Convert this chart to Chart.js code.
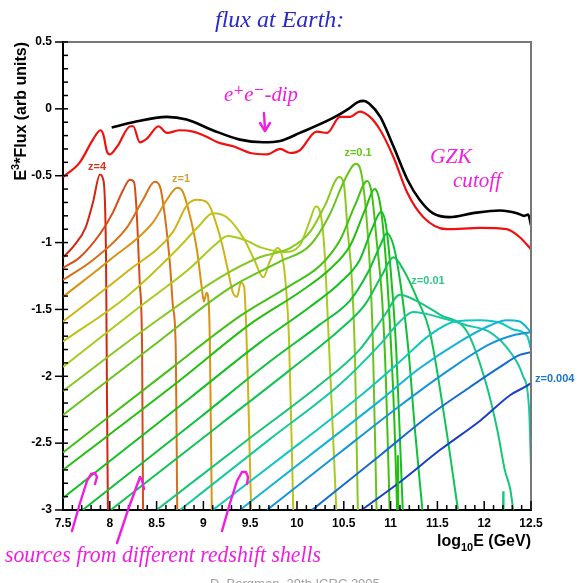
<!DOCTYPE html>
<html>
<head>
<meta charset="utf-8">
<script src="https://cdn.jsdelivr.net/npm/chart.js@4.4.1/dist/chart.umd.min.js"></script>
<style>
  html, body { margin: 0; padding: 0; background: #fff; }
  canvas { display: block; }
</style>
</head>
<body>
<canvas id="flux" width="579" height="583"></canvas>
<script>
// axis ranges: log10(E/GeV) across, log10(E^3 * flux) up
const xRange = [7.5, 12.5];
const yRange = [-3, 0.5];
const tickStep = 0.5;

// smooth flux at Earth (black) and the summed shells (red)
const earthFlux = [[8.02,-0.14],[8.25,-0.10],[8.61,-0.06],[8.82,-0.08],[9.10,-0.16],[9.39,-0.23],[9.64,-0.25],[9.82,-0.24],[10.03,-0.18],[10.38,-0.07],[10.55,0.0],[10.65,0.05],[10.71,0.06],[10.77,0.04],[10.89,-0.06],[11.03,-0.28],[11.18,-0.53],[11.31,-0.68],[11.45,-0.78],[11.63,-0.81],[11.88,-0.78],[12.17,-0.76],[12.35,-0.78],[12.43,-0.80],[12.47,-0.79],[12.5,-0.87]];
const summedFlux = [[7.5,-0.51],[7.68,-0.40],[7.82,-0.23],[7.90,-0.16],[7.93,-0.19],[7.97,-0.32],[8.00,-0.34],[8.08,-0.28],[8.22,-0.13],[8.25,-0.13],[8.32,-0.25],[8.40,-0.22],[8.52,-0.13],[8.61,-0.18],[8.75,-0.16],[8.89,-0.17],[9.04,-0.21],[9.15,-0.25],[9.32,-0.28],[9.50,-0.33],[9.68,-0.34],[9.82,-0.30],[9.93,-0.33],[10.03,-0.31],[10.21,-0.17],[10.32,-0.18],[10.46,-0.06],[10.57,-0.06],[10.67,-0.02],[10.78,-0.06],[10.89,-0.16],[11.03,-0.36],[11.18,-0.63],[11.35,-0.81],[11.60,-0.90],[11.96,-0.89],[12.24,-0.90],[12.38,-0.96],[12.5,-1.05]];

// one spectrum per redshift shell, from z=4 down to z=0.004
const shell01 = [[7.5,-1.11],[7.61,-1.03],[7.74,-0.89],[7.82,-0.70],[7.895,-0.49],[7.93,-0.53],[7.96,-1.13],[7.97,-2.18],[7.98,-3.0]];
const shell02 = [[7.5,-1.19],[7.68,-1.11],[7.90,-0.93],[8.03,-0.78],[8.14,-0.61],[8.215,-0.53],[8.26,-0.55],[8.29,-0.81],[8.32,-1.30],[8.345,-1.80],[8.355,-3.0]];
const shell03 = [[7.5,-1.28],[7.82,-1.13],[8.18,-0.89],[8.355,-0.68],[8.48,-0.545],[8.535,-0.58],[8.59,-0.81],[8.645,-1.18],[8.675,-1.48],[8.705,-1.80],[8.72,-3.0]];
const shell04 = [[7.5,-1.405],[8.0,-1.13],[8.46,-0.85],[8.61,-0.68],[8.72,-0.59],[8.78,-0.62],[8.86,-0.81],[8.93,-1.05],[8.985,-1.35],[9.005,-1.44],[9.035,-1.375],[9.06,-1.50],[9.07,-1.80],[9.09,-3.0]];
const shell05 = [[7.5,-1.59],[8.18,-1.22],[8.675,-0.92],[8.825,-0.72],[8.93,-0.68],[9.04,-0.70],[9.18,-0.96],[9.26,-1.20],[9.315,-1.375],[9.36,-1.405],[9.40,-1.30],[9.435,-1.33],[9.455,-1.58],[9.475,-2.03],[9.51,-3.0]];
const shell06 = [[7.5,-1.74],[8.18,-1.405],[8.72,-1.05],[8.96,-0.87],[9.10,-0.78],[9.25,-0.81],[9.44,-0.98],[9.55,-1.14],[9.64,-1.26],[9.71,-1.14],[9.79,-1.04],[9.83,-1.07],[9.87,-1.24],[9.915,-1.73],[9.96,-3.0]];
const shell07 = [[7.5,-1.93],[8.32,-1.48],[8.86,-1.19],[9.12,-1.02],[9.26,-0.95],[9.44,-0.98],[9.63,-1.04],[9.87,-1.07],[10.03,-1.02],[10.14,-0.83],[10.20,-0.73],[10.25,-0.78],[10.29,-1.02],[10.33,-1.58],[10.42,-3.0]];
const shell08 = [[7.5,-2.11],[8.43,-1.62],[9.18,-1.26],[9.60,-1.11],[9.93,-1.04],[10.14,-0.92],[10.30,-0.72],[10.45,-0.51],[10.50,-0.56],[10.54,-0.90],[10.59,-1.32],[10.62,-1.88],[10.65,-3.0]];
const shell09 = [[7.5,-2.29],[8.54,-1.73],[9.28,-1.34],[9.82,-1.14],[10.14,-1.02],[10.35,-0.79],[10.51,-0.53],[10.63,-0.41],[10.69,-0.49],[10.74,-0.79],[10.78,-1.20],[10.81,-1.73],[10.85,-3.0]];
const shell10 = [[7.5,-2.57],[8.64,-1.95],[9.39,-1.55],[9.93,-1.32],[10.25,-1.17],[10.46,-0.98],[10.62,-0.72],[10.75,-0.54],[10.80,-0.64],[10.85,-0.98],[10.91,-1.43],[10.95,-2.03],[10.99,-3.0]];
const shell11 = [[7.5,-2.70],[8.75,-2.03],[9.50,-1.61],[10.03,-1.37],[10.35,-1.20],[10.57,-1.02],[10.73,-0.75],[10.83,-0.60],[10.89,-0.72],[10.94,-1.05],[10.99,-1.58],[11.04,-2.33],[11.07,-3.0]];
const shell12 = [[7.5,-2.91],[8.86,-2.16],[9.60,-1.75],[10.14,-1.48],[10.46,-1.30],[10.67,-1.13],[10.80,-0.90],[10.90,-0.77],[10.95,-0.87],[11.00,-1.20],[11.06,-1.80],[11.10,-2.47],[11.13,-3.0]];
const shell13 = [[7.71,-3.0],[8.96,-2.31],[9.71,-1.89],[10.25,-1.61],[10.57,-1.43],[10.76,-1.22],[10.89,-1.02],[10.96,-0.93],[11.03,-1.02],[11.10,-1.28],[11.19,-1.80],[11.26,-2.40],[11.34,-3.0]];
const shell14 = [[8.01,-3.0],[9.18,-2.36],[9.93,-1.95],[10.46,-1.65],[10.73,-1.46],[10.91,-1.24],[11.03,-1.11],[11.15,-1.22],[11.29,-1.43],[11.42,-1.67],[11.58,-2.33],[11.72,-3.0]];
const shell15 = [[8.50,-3.0],[9.50,-2.46],[10.25,-2.06],[10.67,-1.80],[10.94,-1.54],[11.10,-1.39],[11.26,-1.43],[11.53,-1.54],[11.82,-1.67],[12.01,-2.03],[12.14,-2.40],[12.22,-2.70],[12.28,-2.85],[12.31,-3.0]];
const shell16 = [[8.75,-3.0],[9.71,-2.47],[10.46,-2.06],[10.89,-1.76],[11.10,-1.59],[11.24,-1.52],[11.53,-1.56],[11.82,-1.62],[12.06,-1.67],[12.28,-1.82],[12.41,-1.99],[12.48,-2.25],[12.5,-2.68]];
const shell17 = [[9.10,-3.0],[10.03,-2.50],[10.67,-2.15],[11.10,-1.89],[11.42,-1.69],[11.69,-1.59],[11.96,-1.58],[12.17,-1.60],[12.31,-1.65],[12.46,-1.70],[12.5,-1.80]];
const shell18 = [[9.39,-3.0],[10.25,-2.53],[10.89,-2.18],[11.31,-1.94],[11.74,-1.74],[12.06,-1.62],[12.24,-1.58],[12.38,-1.59],[12.5,-1.67]];
const shell19 = [[9.68,-3.0],[10.46,-2.57],[11.10,-2.22],[11.63,-1.95],[12.06,-1.76],[12.33,-1.69],[12.5,-1.67]];
const shell20 = [[10.16,-3.0],[10.89,-2.59],[11.42,-2.29],[11.85,-2.08],[12.17,-1.93],[12.38,-1.84],[12.5,-1.82]];
const shell21 = [[10.69,-3.0],[11.10,-2.79],[11.53,-2.55],[11.96,-2.33],[12.28,-2.14],[12.46,-2.07],[12.5,-2.05]];

// short noise spikes at the foot of two cutoffs
const spike11 = [[11.075,-3.05],[11.078,-2.59],[11.082,-3.05]];
const spike15 = [[12.20,-3.05],[12.203,-2.86],[12.207,-3.05]];

const shells = [shell01, shell02, shell03, shell04, shell05, shell06, shell07, shell08, shell09, shell10, shell11,
  shell12, shell13, shell14, shell15, shell16, shell17, shell18, shell19, shell20, shell21];
const shellColors = ['#d42412', '#d64c16', '#d8701a', '#d89214', '#cfb316', '#bcc41c', '#a6cc20', '#88c820', '#68c41c',
  '#44c014', '#22c00c', '#14c020', '#10c038', '#10c454', '#16c678', '#18c8a0', '#12c6c0', '#12b4d6', '#1496d8', '#146cd0', '#1840c6'];

const toPoints = arr => arr.map(p => ({ x: p[0], y: p[1] }));

const datasets = [
  { data: toPoints(earthFlux), borderColor: '#000', borderWidth: 2.6 },
  { data: toPoints(summedFlux), borderColor: '#f01010', borderWidth: 2.2 },
  { data: toPoints(spike11), borderColor: shellColors[10], borderWidth: 2, cubicInterpolationMode: 'default' },
  { data: toPoints(spike15), borderColor: shellColors[14], borderWidth: 2, cubicInterpolationMode: 'default' }
];
// lower-z shells drawn on top
for (let i = shells.length - 1; i >= 0; i--) {
  datasets.push({ data: toPoints(shells[i]), borderColor: shellColors[i], borderWidth: 2 });
}

const hand = size => `italic ${size}px "Liberation Serif", "DejaVu Serif", serif`;
// 8 rather than 8.0, -1 rather than -1.0
const plainNumber = v => String(Math.round(v * 10) / 10);

const frame = {
  id: 'frame',
  afterDraw(chart) {
    const { ctx, chartArea: a, scales: { x, y } } = chart;
    ctx.save();
    ctx.strokeStyle = '#777';
    ctx.lineWidth = 2;
    ctx.beginPath();
    ctx.moveTo(a.left, a.top);
    ctx.lineTo(a.right, a.top);
    ctx.lineTo(a.right, a.bottom);
    ctx.stroke();

    ctx.strokeStyle = '#000';
    ctx.lineWidth = 1.5;
    for (let k = 0; k <= 50; k++) {
      const px = x.getPixelForValue(xRange[0] + k * 0.1);
      const len = k % 5 === 0 ? 9 : 5;
      ctx.beginPath();
      ctx.moveTo(px, a.bottom);
      ctx.lineTo(px, a.bottom - len);
      ctx.stroke();
    }
    for (let k = 0; k <= 35; k++) {
      const py = y.getPixelForValue(yRange[0] + k * 0.1);
      ctx.beginPath();
      ctx.moveTo(a.left, py);
      ctx.lineTo(a.left + 5, py);
      ctx.stroke();
      if (k % 5 === 0) {
        ctx.beginPath();
        ctx.moveTo(a.left - 8, py);
        ctx.lineTo(a.left, py);
        ctx.stroke();
      }
    }
    ctx.restore();
  }
};

const notes = {
  id: 'notes',
  afterDraw(chart) {
    const { ctx, chartArea: a } = chart;
    ctx.save();

    // y title, reading upwards and ending at the top of the frame
    ctx.translate(26, a.top);
    ctx.rotate(-Math.PI / 2);
    ctx.fillStyle = '#000';
    ctx.textBaseline = 'alphabetic';
    ctx.textAlign = 'left';
    const big = 'bold 16px "Liberation Sans", Arial, sans-serif';
    const small = 'bold 11px "Liberation Sans", Arial, sans-serif';
    ctx.font = big;
    const wE = ctx.measureText('E').width;
    const tail = '*Flux (arb units)';
    const wTail = ctx.measureText(tail).width;
    ctx.font = small;
    const w3 = ctx.measureText('3').width;
    let cx = -(wE + w3 + wTail);
    ctx.font = big; ctx.fillText('E', cx, 0); cx += wE;
    ctx.font = small; ctx.fillText('3', cx, -7); cx += w3;
    ctx.font = big; ctx.fillText(tail, cx, 0);
    ctx.setTransform(1, 0, 0, 1, 0, 0);

    // x title with subscript, right aligned to the frame
    ctx.font = big;
    const wLog = ctx.measureText('log').width;
    const rest = 'E (GeV)';
    const wRest = ctx.measureText(rest).width;
    ctx.font = small;
    const w10 = ctx.measureText('10').width;
    let tx = a.right - (wLog + w10 + wRest);
    ctx.font = big; ctx.fillText('log', tx, 546); tx += wLog;
    ctx.font = small; ctx.fillText('10', tx, 551); tx += w10;
    ctx.font = big; ctx.fillText(rest, tx, 546);

    // redshift labels
    ctx.font = 'bold 11px "Liberation Sans", Arial, sans-serif';
    ctx.textBaseline = 'middle';
    ctx.textAlign = 'center';
    ctx.fillStyle = '#d83418'; ctx.fillText('z=4', 97, 167);
    ctx.fillStyle = '#d8a030'; ctx.fillText('z=1', 181, 179);
    ctx.fillStyle = '#66c41c'; ctx.fillText('z=0.1', 358, 153);
    ctx.fillStyle = '#2ec88a'; ctx.fillText('z=0.01', 428, 281);
    ctx.textAlign = 'left';
    ctx.fillStyle = '#1a74d0'; ctx.fillText('z=0.004', 535, 379);

    // handwritten remarks
    ctx.textBaseline = 'alphabetic';
    ctx.fillStyle = '#2a2ac8';
    ctx.font = hand(24);
    ctx.fillText('flux at Earth:', 215, 27, 130);
    const pink = '#f01ee0';
    ctx.fillStyle = pink;
    ctx.font = hand(22);
    ctx.fillText('e\u207Ae\u207B-dip', 224, 101, 74);
    ctx.fillText('GZK', 430, 163, 42);
    ctx.fillText('cutoff', 453, 187, 48);
    ctx.font = hand(23);
    ctx.fillText('sources from different redshift shells', 5, 562, 316);

    ctx.strokeStyle = pink;
    ctx.lineWidth = 2.4;
    ctx.lineCap = 'round';
    ctx.lineJoin = 'round';
    const stroke = pts => {
      ctx.beginPath();
      ctx.moveTo(pts[0][0], pts[0][1]);
      for (let i = 1; i < pts.length; i++) ctx.lineTo(pts[i][0], pts[i][1]);
      ctx.stroke();
    };
    // arrow under the dip label
    stroke([[264, 113], [265, 130]]);
    stroke([[260, 123], [265, 131], [270, 123]]);
    // arrows from the bottom remark up to the shells
    stroke([[72, 531], [80, 503], [87, 481], [91, 474], [95, 473], [97, 477], [95, 484]]);
    stroke([[117, 543], [128, 510], [140, 477], [142, 480], [144, 489]]);
    stroke([[222, 531], [230, 503], [237, 481], [242, 472], [246, 472], [248, 477], [247, 484]]);

    // credit line, cut by the bottom of the page
    ctx.fillStyle = '#a0a0a0';
    ctx.font = '13px "Liberation Sans", Arial, sans-serif';
    ctx.fillText('D. Bergman, 29th ICRC 2005', 210, 588);
    ctx.restore();
  }
};

const tickFont = { family: '"Liberation Sans", Arial, sans-serif', size: 12, weight: 'bold' };

new Chart(document.getElementById('flux'), {
  type: 'line',
  data: { datasets },
  options: {
    responsive: false,
    animation: false,
    layout: { padding: { top: 42, right: 48, left: 0, bottom: 0 } },
    plugins: { legend: { display: false }, tooltip: { enabled: false } },
    elements: {
      point: { radius: 0 },
      line: { borderWidth: 2, cubicInterpolationMode: 'monotone', fill: false }
    },
    scales: {
      x: {
        type: 'linear',
        min: xRange[0],
        max: xRange[1],
        afterFit: s => { s.height = 73; },
        grid: { display: false, drawTicks: false },
        border: { display: true, color: '#000', width: 2 },
        ticks: { stepSize: tickStep, padding: 6, font: tickFont, color: '#000', maxRotation: 0, autoSkip: false, callback: plainNumber }
      },
      y: {
        type: 'linear',
        min: yRange[0],
        max: yRange[1],
        afterFit: s => { s.width = 63; },
        grid: { display: false, drawTicks: false },
        border: { display: true, color: '#000', width: 2 },
        ticks: { stepSize: tickStep, padding: 11, font: tickFont, color: '#000', autoSkip: false, callback: plainNumber }
      }
    }
  },
  plugins: [frame, notes]
});
</script>
</body>
</html>
